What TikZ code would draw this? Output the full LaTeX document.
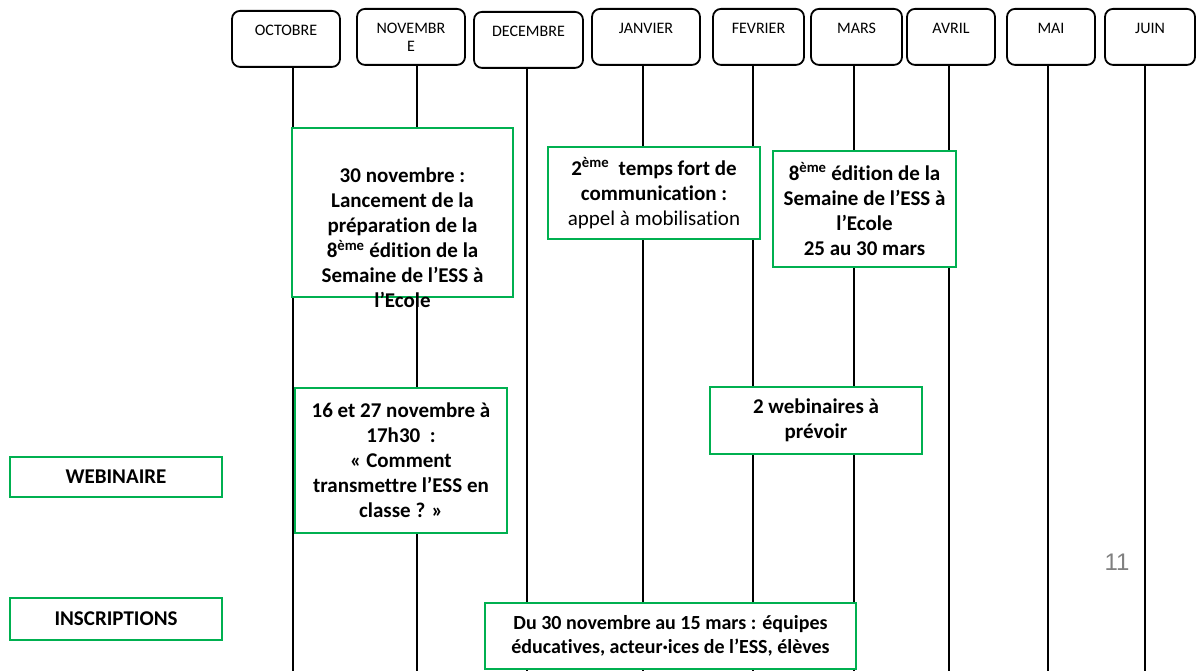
\documentclass[tikz,border=0pt]{standalone}
\usepackage{fontspec}
\setmainfont{Carlito}[Ligatures=NoCommon]
\newfontfamily\arialfont{Liberation Sans}
\usepackage{xcolor}
\usepackage{tikz}
\definecolor{vert}{RGB}{0,176,80}

\begin{document}
\begin{tikzpicture}[
  x=1pt, y=-1pt,
  mois/.style={draw, rounded corners=8pt, line width=1.8pt, anchor=north,
    inner sep=0pt, text height=25pt, text depth=31pt, minimum width=#1,
    font=\fontsize{16}{18}\selectfont},
  trait/.style={line width=1.5pt},
  evt/.style={draw=vert, line width=2.4pt, fill=white, align=center, inner sep=0pt,
    font=\bfseries\fontsize{21}{25}\selectfont},
  every node/.style={}
  ]

\useasboundingbox (0,0) rectangle (1196,671);
\coordinate (bas) at (0,671);

\node[mois=108] (oct) at (286,10) {OCTOBRE};
\node[mois=108] (nov) at (411,8) {\begin{tabular}[t]{@{}c@{}}NOVEMBR\\E\end{tabular}};
\node[mois=109] (dec) at (528.5,11) {DECEMBRE};
\node[mois=108] (jan) at (646,8) {JANVIER};
\node[mois=91] (fev) at (758.5,8) {FEVRIER};
\node[mois=91] (mar) at (856.5,8) {MARS};
\node[mois=88] (avr) at (951,8) {AVRIL};
\node[mois=88] (mai) at (1051,8) {MAI};
\node[mois=90] (juin) at (1150,8) {JUIN};

\foreach \m/\dx in {oct/7,nov/6,dec/-1.5,jan/-3,fev/-5.5,mar/-2.5,avr/-2,mai/-3,juin/-5}
  \draw[trait] ([xshift=\dx]\m.south) -- ([xshift=\dx]\m.south |- bas);

\node[evt, minimum width=221, minimum height=169] (prep) at (402.5,212.5) {};
\node[font=\bfseries\fontsize{21}{25}\selectfont, align=center] (prep-txt) at ([yshift=-25.5]prep.center)
  {30 novembre :\\Lancement de la\\préparation de la\\8\textsuperscript{ème} édition de la\\Semaine de l’ESS à\\l’Ecole};

\node[evt, minimum width=212, minimum height=92] (temps) at (654,193)
  {2\textsuperscript{ème}\ \ temps fort de\\communication :\\\mdseries appel à mobilisation};
\node[evt, minimum width=183, minimum height=116] (semaine) at (864.5,209)
  {8\textsuperscript{ème} édition de la\\Semaine de l’ESS à\\l’Ecole\\25 au 30 mars};

\node[evt, minimum width=212, minimum height=40] (webi) at (116,477) {WEBINAIRE};
\node[evt, minimum width=212, minimum height=145] (comment) at (401,460.5)
  {16 et 27 novembre à\\17h30\ \ :\\« Comment\\transmettre l’ESS en\\classe ? »};
\node[evt, minimum width=212, minimum height=67] (prevoir) at (816,420.5)
  {2 webinaires à\\prévoir};

\node[evt, minimum width=212, minimum height=42] (inscr) at (116,619) {INSCRIPTIONS};
\node[evt, minimum width=371, minimum height=66, font=\bfseries\fontsize{20}{24}\selectfont] (periode) at (670.5,636)
  {Du 30 novembre au 15 mars : équipes\\éducatives, acteur·ices de l’ESS, élèves};

\node[text=gray, font=\arialfont\fontsize{24}{28}\selectfont] (page) at (1117,562) {11};

\end{tikzpicture}
\end{document}
